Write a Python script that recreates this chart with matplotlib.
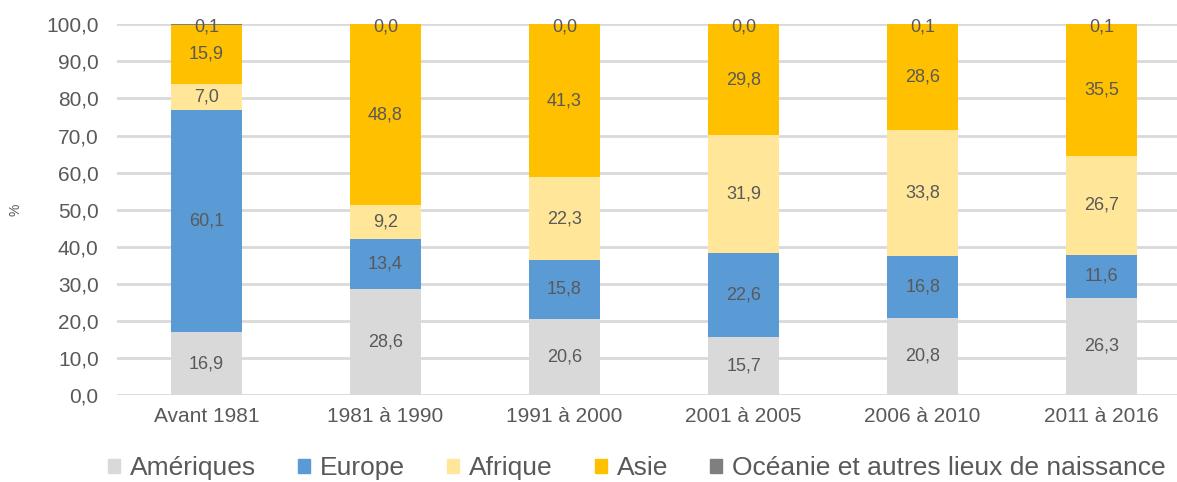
import matplotlib
matplotlib.use("Agg")
import matplotlib.pyplot as plt
from matplotlib.patches import Rectangle
import numpy as np

plt.rcParams["font.family"] = ["Liberation Sans", "DejaVu Sans"]

categories = ["Avant 1981", "1981 à 1990", "1991 à 2000", "2001 à 2005", "2006 à 2010", "2011 à 2016"]
series_names = ["Amériques", "Europe", "Afrique", "Asie", "Océanie et autres lieux de naissance"]
ameriques = [16.9, 28.6, 20.6, 15.7, 20.8, 26.3]
europe = [60.1, 13.4, 15.8, 22.6, 16.8, 11.6]
afrique = [7.0, 9.2, 22.3, 31.9, 33.8, 26.7]
asie = [15.9, 48.8, 41.3, 29.8, 28.6, 35.5]
oceanie = [0.1, 0.0, 0.0, 0.0, 0.1, 0.1]
colors = ["#D9D9D9", "#5B9BD5", "#FFE699", "#FFC000", "#7F7F7F"]
yticks = np.arange(0, 101, 10)

TXT = "#595959"

fig = plt.figure(figsize=(11.77, 4.82), dpi=100)
fig.patch.set_facecolor("white")
ax = fig.add_axes([0.0992, 0.1805, 0.9008, 0.7691])

x = np.arange(len(categories))
bottom = np.zeros(len(categories))
handles = []
for name, vals, col in zip(series_names, [ameriques, europe, afrique, asie, oceanie], colors):
    vals = np.array(vals)
    ax.bar(x, vals, bottom=bottom, width=0.395, color=col, linewidth=0, zorder=2)
    # data labels (Océanie has no visible segment but is labelled at the top)
    for xi, b, v in zip(x, bottom, vals):
        y = min(b + v / 2, 99.2)
        ax.text(xi, y, f"{v:.1f}".replace(".", ","), ha="center", va="center",
                fontsize=13, color=TXT, zorder=3)
    bottom += vals
    handles.append(Rectangle((0, 0), 1, 1, color=col))

ax.set_ylim(0, 100)
ax.set_xlim(-0.5, 5.42)
ax.set_yticks(yticks)
ax.set_yticklabels([f"{t:.1f}".replace(".", ",") for t in yticks])
ax.set_xticks(x)
ax.set_xticklabels(categories)
ax.tick_params(axis="y", length=0, pad=13, labelsize=15, labelcolor=TXT)
ax.tick_params(axis="x", length=0, pad=9, labelsize=15, labelcolor=TXT)
for s in ax.spines.values():
    s.set_visible(False)
ax.grid(axis="y", color="#D9D9D9", linewidth=2)
ax.set_axisbelow(True)

fig.text(0.0135, 0.565, "%", rotation=90, ha="center", va="center", fontsize=10, color=TXT)

fig.legend(handles, series_names, loc="center", bbox_to_anchor=(0.541, 0.029),
           ncol=5, frameon=False, fontsize=19, labelcolor=TXT,
           handlelength=0.45, handleheight=0.45, handletextpad=0.38,
           columnspacing=1.6, borderpad=0)

fig.savefig("out.png", dpi=100, facecolor="white")
